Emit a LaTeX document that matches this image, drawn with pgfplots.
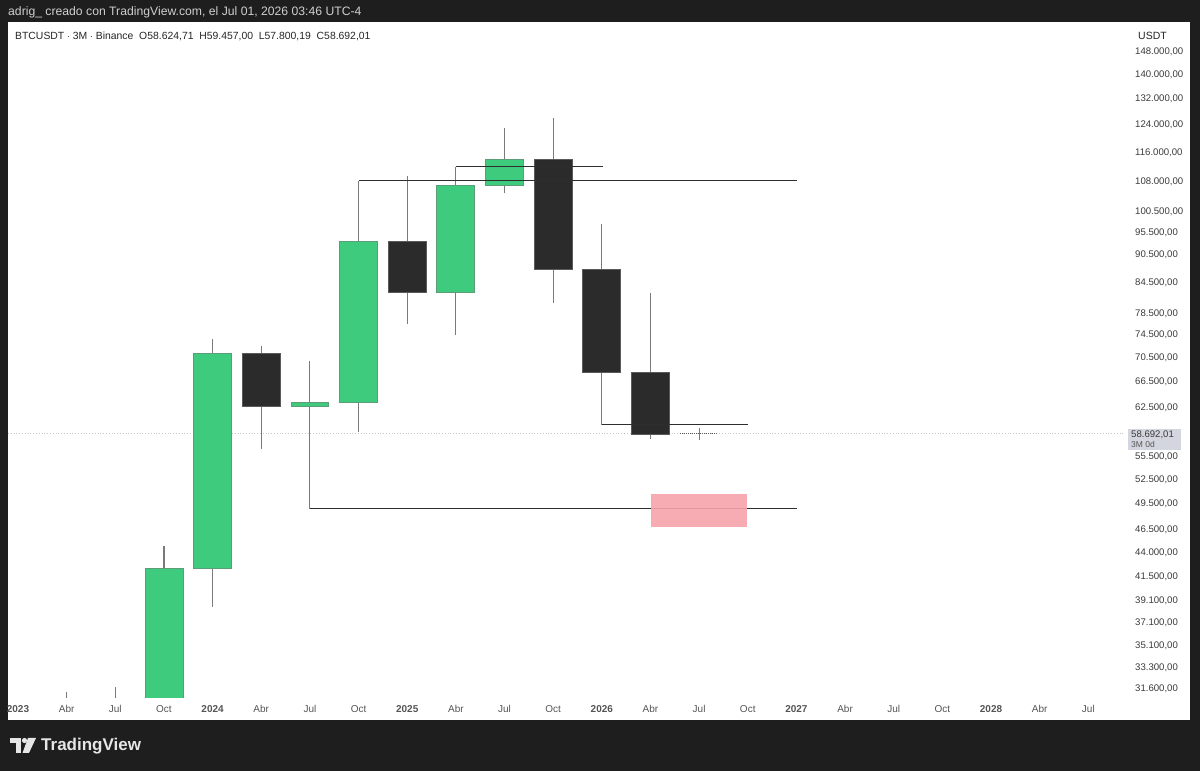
\documentclass[border=0pt]{standalone}
\usepackage{pgfplots}
\pgfplotsset{compat=1.18}
\usepackage{fontspec}
\setmainfont{Liberation Sans}
\definecolor{bgdark}{HTML}{1E1E1E}
\definecolor{upg}{HTML}{3ECB7E}
\definecolor{upb}{HTML}{5E9C78}
\definecolor{dnf}{HTML}{2B2B2B}
\definecolor{dnb}{HTML}{5A5A5A}
\definecolor{wickc}{HTML}{7A7A7A}
\definecolor{linec}{HTML}{2E2E2E}
\definecolor{pinkz}{HTML}{F7A4AB}
\definecolor{lbl}{HTML}{3A3A3A}
\definecolor{mon}{HTML}{555555}
\definecolor{pricebox}{HTML}{D3D6DE}
\definecolor{toptext}{HTML}{CFCFCF}
\definecolor{logoc}{HTML}{E6E6E6}
\pgfplotsset{up/.style={fill=upg, draw=upb}, dn/.style={fill=dnf, draw=dnb}}
% x, xleft, xright, open, high, low, close, style
\newcommand{\candle}[8]{%
  \addplot[wickc, line width=1.1pt] coordinates {(#1,#6) (#1,#5)};
  \addplot[#8, line width=0.8pt] coordinates {(#2,#4) (#3,#4) (#3,#7) (#2,#7)} -- cycle;
}
\begin{document}
\begin{tikzpicture}[x=1pt,y=1pt]
\useasboundingbox (0,0) rectangle (1200,771);
\fill[bgdark] (0,0) rectangle (1200,771);
\fill[white] (8,749) rectangle (1190,51);
\begin{axis}[
  at={(8pt,73pt)}, anchor=south west,
  width=1117pt, height=676pt, scale only axis,
  xmin=-0.2055, xmax=22.754,
  ymode=log, ymin=30912, ymax=159170,
  no markers,
  axis line style={draw=none},
  major tick length=0pt, minor tick length=0pt,
  ytick={148000,140000,132000,124000,116000,108000,100500,95500,90500,84500,78500,74500,70500,66500,62500,55500,52500,49500,46500,44000,41500,39100,37100,35100,33300,31600},
  yticklabels={{148.000,00},{140.000,00},{132.000,00},{124.000,00},{116.000,00},{108.000,00},{100.500,00},{95.500,00},{90.500,00},{84.500,00},{78.500,00},{74.500,00},{70.500,00},{66.500,00},{62.500,00},{55.500,00},{52.500,00},{49.500,00},{46.500,00},{44.000,00},{41.500,00},{39.100,00},{37.100,00},{35.100,00},{33.300,00},{31.600,00}},
  yticklabel pos=right,
  yticklabel style={anchor=west, inner sep=0pt, xshift=10pt, font=\fontsize{9.6}{12}\selectfont, text=lbl},
  xtick={0,...,22},
  xticklabels={\textbf{2023},Abr,Jul,Oct,\textbf{2024},Abr,Jul,Oct,\textbf{2025},Abr,Jul,Oct,\textbf{2026},Abr,Jul,Oct,\textbf{2027},Abr,Jul,Oct,\textbf{2028},Abr,Jul},
  xticklabel style={anchor=center, inner sep=0pt, yshift=-11pt, font=\fontsize{10}{12}\selectfont, text=mon},
]
% current price line
\addplot[gray!45, dotted, line width=0.8pt] coordinates {(-0.2055,58692.01) (22.754,58692.01)};
% candles
\candle{1}{0.61}{1.39}{28478}{31390}{24750}{30477}{up}
\candle{2}{1.61}{2.39}{30477}{31780}{24900}{26967}{dn}
\candle{3}{2.61}{3.39}{26967}{44700}{26520}{42283}{up}
\candle{4}{3.61}{4.39}{42283}{73777}{38555}{71280}{up}
\candle{5}{4.61}{5.39}{71280}{72600}{56552}{62678}{dn}
\candle{6}{5.61}{6.39}{62678}{70000}{48900}{63300}{up}
\candle{7}{6.61}{7.39}{63300}{108350}{58870}{93430}{up}
\candle{8}{7.61}{8.39}{93430}{109590}{76560}{82550}{dn}
\candle{9}{8.61}{9.39}{82550}{111980}{74510}{107140}{up}
\candle{10}{9.61}{10.39}{107140}{123220}{105100}{114050}{up}
\candle{11}{10.61}{11.39}{114050}{126200}{80600}{87400}{dn}
\candle{12}{11.61}{12.39}{87400}{97500}{59930}{68080}{dn}
\candle{13}{12.61}{13.39}{68080}{82580}{57900}{58624.71}{dn}
\addplot[wickc, line width=1.1pt] coordinates {(14,57800.19) (14,59457)};
\addplot[dnb, densely dotted, line width=1pt] coordinates {(13.61,58660) (14.39,58660)};
% drawings
\addplot[linec, line width=1pt] coordinates {(6,48900) (16.01,48900)};
\addplot[linec, line width=1pt] coordinates {(7,108350) (16.01,108350)};
\addplot[linec, line width=1pt] coordinates {(9,111980) (12.02,111980)};
\addplot[linec, line width=1pt] coordinates {(12,59930) (15,59930)};
\addplot[fill=pinkz, draw=none, fill opacity=0.9] coordinates {(13.01,46830) (14.98,46830) (14.98,50690) (13.01,50690)} -- cycle;
\end{axis}
% texts
\node[anchor=west, inner sep=0pt, text=toptext, font=\fontsize{12.2}{14}\selectfont] at (8,759) {adrig\_ creado con TradingView.com, el Jul 01, 2026 03:46 UTC-4};
\node[anchor=west, inner sep=0pt, text=black!85, font=\fontsize{10.4}{12}\selectfont] at (15,735) {BTCUSDT $\cdot$ 3M $\cdot$ Binance\ \ O58.624,71\ \ H59.457,00\ \ L57.800,19\ \ C58.692,01};
\node[anchor=west, inner sep=0pt, text=black!85, font=\fontsize{10.5}{12}\selectfont] at (1138,735) {USDT};
% price label
\fill[pricebox] (1128,342) rectangle (1181,321);
\node[anchor=west, inner sep=0pt, text=lbl, font=\fontsize{9.6}{12}\selectfont] at (1131,336) {58.692,01};
\node[anchor=west, inner sep=0pt, text=mon, font=\fontsize{8.5}{10}\selectfont] at (1131,327) {3M 0d};
% logo
\fill[logoc] (10,33) rectangle (21,28);
\fill[logoc] (16,33) rectangle (21,18);
\fill[logoc] (24.5,30.5) circle (2.6);
\fill[logoc] (28,33) -- (36,33) -- (29,18) -- (22.5,18) -- cycle;
\node[anchor=west, inner sep=0pt, text=logoc, font=\fontsize{17}{20}\selectfont\bfseries] at (41,25) {TradingView};
\end{tikzpicture}
\end{document}
